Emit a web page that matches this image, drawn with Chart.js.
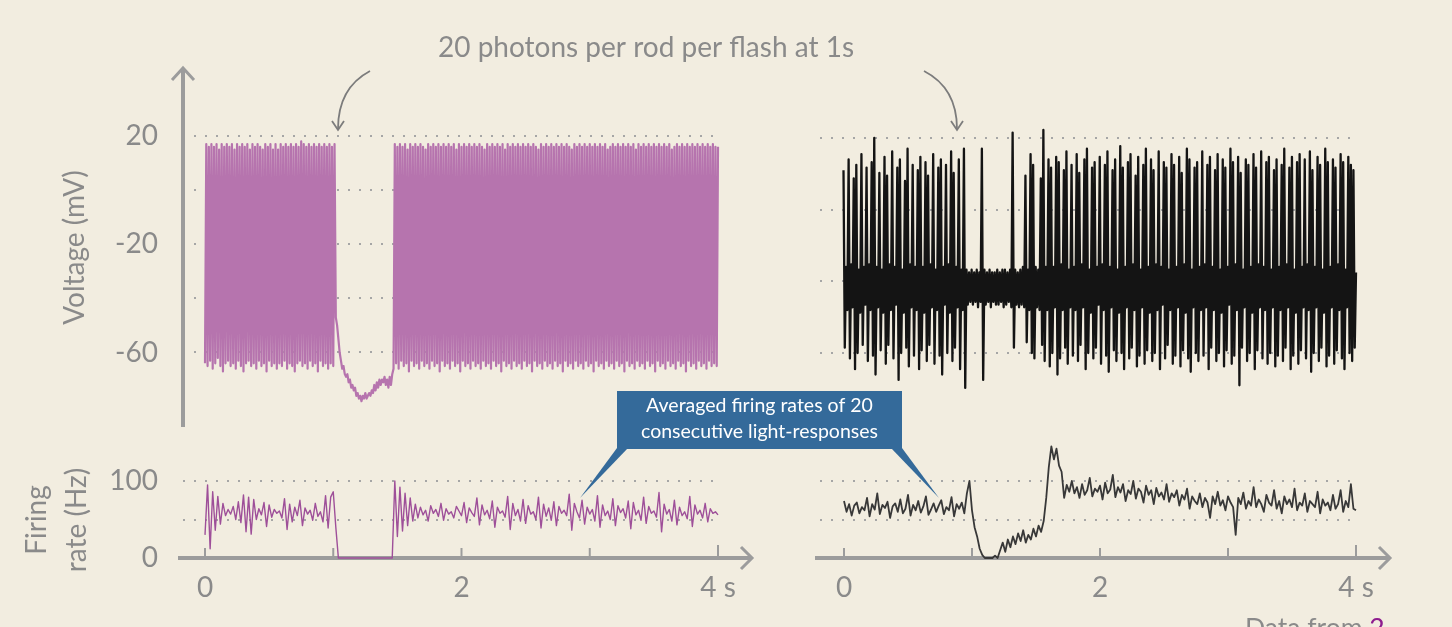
<!DOCTYPE html>
<html>
<head>
<meta charset="utf-8">
<script src="https://cdn.jsdelivr.net/npm/chart.js@4.4.1/dist/chart.umd.min.js"></script>
<style>
  html, body { margin: 0; padding: 0; background: #f2ede0; overflow: hidden; }
  #wrap { position: relative; width: 1452px; height: 627px; }
  #wrap canvas { position: absolute; left: 0; top: 0; }
</style>
</head>
<body>
<div id="wrap">
  <canvas id="voltLeft" width="1452" height="627"></canvas>
  <canvas id="rateLeft" width="1452" height="627"></canvas>
  <canvas id="voltRight" width="1452" height="627"></canvas>
  <canvas id="rateRight" width="1452" height="627"></canvas>
</div>
<script>
// time axis (s)
const timeTicks = [0, 1, 2, 3, 4];
const timeTickLabels = ['0', '', '2', '', '4 s'];
const voltStep = 0.01;   // voltage traces sampled every 10 ms
const rateStep = 0.02;   // firing rates every 20 ms

const voltGridLeft = [20, 0, -20, -40, -60];
const voltLabelsLeft = ['20', '', '-20', '', '-60'];
const voltGridRight = [20, -6.67, -33.33, -60];
const rateGrid = [0, 50, 100];
const rateLabels = ['0', '', '100'];

// mV, ganglion cell (patch), flash at ~1 s
const purpleVoltage = [
  -64, 17, -65, 16, -63, 17, -66, 16, -64, 17, -62, 15, -65, 17, -67, 16, -64, 17, -63, 16,
  -65, 17, -64, 15, -66, 17, -63, 16, -65, 17, -67, 16, -64, 17, -63, 15, -65, 17, -64, 16,
  -66, 17, -63, 16, -65, 15, -64, 17, -67, 16, -63, 17, -65, 15, -64, 17, -66, 15, -64, 17,
  -65, 16, -63, 17, -66, 16, -64, 17, -65, 16, -67, 17, -64, 16, -63, 18, -65, 17, -64, 16,
  -66, 17, -63, 16, -65, 17, -64, 16, -67, 17, -63, 16, -65, 17, -64, 16, -66, 17, -64, 16,
  -65, 17,
  -47, -50, -55, -60, -63, -66, -65, -68, -69, -68,
  -71, -70, -73, -72, -74, -73, -76, -75, -77, -76,
  -78, -76, -77, -75, -77, -76, -75, -76, -74, -75,
  -72, -74, -71, -73, -70, -72, -70, -71, -69, -72,
  -70, -73, -69, -72, -68, -66,
  17, -64, 16, -66, 17, -63, 16, -65, 17, -64, 15, -67, 17, -63, 16, -65, 17, -64, 16, -66,
  17, -63, 16, -65, 15, -64, 17, -66, 16, -63, 17, -65, 16, -64, 17, -67, 16, -63, 17, -65,
  16, -64, 17, -66, 16, -63, 17, -65, 15, -64, 17, -67, 16, -63, 17, -65, 16, -64, 17, -66,
  16, -63, 17, -65, 16, -64, 17, -66, 16, -63, 15, -65, 17, -64, 16, -66, 17, -63, 16, -65,
  17, -64, 16, -67, 17, -63, 15, -65, 17, -64, 16, -66, 17, -63, 16, -65, 17, -64, 16, -66,
  17, -63, 16, -65, 17, -64, 16, -67, 17, -63, 16, -65, 15, -64, 17, -66, 16, -63, 17, -65,
  16, -64, 17, -66, 16, -63, 17, -65, 16, -64, 17, -67, 16, -63, 17, -65, 16, -64, 15, -66,
  17, -63, 16, -65, 17, -64, 16, -66, 17, -63, 16, -65, 17, -64, 16, -67, 17, -63, 16, -65,
  17, -64, 16, -66, 17, -63, 15, -65, 16, -64, 17, -66, 16, -63, 17, -65, 16, -64, 17, -67,
  16, -63, 17, -65, 16, -64, 17, -66, 15, -63, 17, -65, 16, -64, 17, -66, 16, -63, 17, -65,
  16, -64, 17, -67, 16, -63, 17, -65, 16, -64, 17, -66, 16, -63, 17, -65, 15, -64, 16, -66,
  17, -63, 16, -65, 17, -64, 16, -67, 17, -63, 16, -65, 17, -64, 16, -66, 17, -63, 16, -65,
  17, -64, 16, -66, 17, -63, 16, -65, 17, -64, 16, -65, 16
];

// mV, trace on the right
const blackVoltage = [
  8, -58, -28, -44, 12, -62, -27, -43, 5, -66, 10, -60, -29, -45, 14, -57, -28, -42, 9, -63,
  -27, -44, 11, -61, 20, -68, -28, -43, 7, -59, -29, -45, 13, -64, 6, -57, -27, -44, 15, -62,
  -28, -42, 9, -70, 12, -60, -29, -45, 4, -58, 16, -65, -27, -43, 10, -61, -28, -44, 8, -66,
  13, -59, -28, -45, 11, -63, 6, -57, -27, -43, 14, -64, -29, -44, 9, -61, 12, -68, -28, -42,
  10, -60, -27, -45, 15, -63, 7, -58, -28, -43, 12, -66, -29, -44, 16, -73, -29, -42, -30, -41,
  -29, -42, -30, -41, -29, -43, -30, -41, 16, -70, -29, -42, -30, -41, -29, -43, -30, -41, -30, -42,
  -29, -42, -30, -41, -29, -43, -29, -42, -30, -41, -29, -43, 22, -58, -29, -42, -30, -43, -29, -42,
  -28, -43, 6, -56, -29, -44, 14, -60, 10, -62, -28, -43, -29, -44, 5, -57, 23, -63, -28, -44,
  12, -65, 9, -60, -28, -43, 13, -68, 11, -62, -27, -44, 8, -58, 15, -64, -29, -43, 10, -61,
  -28, -44, 14, -63, 7, -57, -27, -43, 12, -66, 16, -60, -29, -45, 9, -62, 11, -58, -28, -42,
  13, -64, -27, -44, 10, -61, 15, -67, -28, -43, 8, -59, 12, -63, -29, -45, 17, -60, 9, -66,
  -28, -43, 11, -62, 14, -58, -27, -44, 6, -65, 13, -61, -29, -43, 10, -64, 16, -59, -28, -45,
  12, -63, 8, -60, -27, -44, 15, -66, -28, -42, 11, -62, 9, -57, -29, -44, 14, -64, 10, -61,
  -28, -43, 13, -65, 7, -59, -27, -45, 16, -62, 12, -67, -29, -43, 9, -60, 11, -63, -28, -44,
  15, -61, -27, -43, 10, -66, 13, -58, -28, -44, 8, -63, 14, -60, -29, -45, 12, -65, 9, -59,
  -28, -42, 16, -64, 11, -61, -27, -44, 13, -72, 7, -58, -29, -43, 12, -63, 10, -60, -28, -45,
  14, -66, 9, -59, -27, -43, 15, -62, -28, -44, 11, -64, 13, -60, -29, -43, 8, -65, 12, -61,
  -28, -44, 10, -63, 16, -58, -27, -43, 9, -66, 13, -61, -29, -45, 11, -64, 14, -59, -28, -43,
  12, -62, -27, -44, 15, -67, 8, -60, -28, -43, 13, -63, 10, -58, -29, -45, 16, -65, 11, -61,
  -28, -43, 12, -64, 9, -59, -27, -44, 14, -62, 11, -66, -29, -43, 13, -60, 10, -63, 8, -58,
  -30
];

// Hz, averaged over 20 light responses
const purpleRate = [
  30, 95, 12, 86, 36, 80, 44, 71, 55, 63, 57, 67, 50, 73, 46, 82, 34, 79, 31, 76,
  50, 64, 56, 72, 41, 69, 53, 63, 58, 61, 52, 77, 37, 70, 47, 66, 55, 75, 42, 65,
  57, 62, 49, 71, 54, 60, 47, 81, 39, 79, 86, 40,
  0, 0, 0, 0, 0, 0, 0, 0, 0, 0, 0, 0, 0, 0, 0, 0, 0, 0, 0, 0, 0, 0,
  100,
  28, 92, 35, 84, 42, 78, 48, 70, 52, 66, 56, 62, 48, 68, 58, 63, 54, 71, 49, 64,
  57, 60, 52, 67, 61, 55, 72, 46, 65, 59, 54, 78, 43, 69, 56, 62, 51, 74, 40, 66,
  58, 61, 53, 80, 37, 71, 55, 63, 48, 76, 45, 68, 57, 60, 50, 79, 39, 70, 54, 65,
  49, 73, 42, 67, 58, 62, 55, 83, 36, 71, 60, 52, 75, 44, 66, 57, 63, 48, 81, 40,
  69, 55, 61, 50, 77, 42, 68, 59, 64, 52, 74, 38, 72, 56, 62, 49, 79, 45, 67, 58,
  61, 53, 85, 34, 70, 57, 63, 48, 75, 43, 66, 55, 60, 51, 80, 41, 69, 57, 62, 52,
  71, 47, 64, 58, 60, 56
];

const blackRate = [
  74, 60, 70, 55, 68, 72, 58, 66, 62, 78, 54, 70, 63, 84, 57, 69, 65, 73, 52, 67,
  71, 60, 76, 58, 64, 82, 55, 69, 62, 74, 59, 67, 80, 56, 63, 71, 60, 68, 75, 57,
  66, 62, 79, 54, 70, 64, 72, 58, 84, 100,
  62, 40, 28, 12, 4, 0, 0, 0, 0, 3, 0, 10, 20, 8, 24, 14, 28, 18, 32, 22,
  36, 20, 30, 24, 38, 28, 42, 34, 48, 78, 118, 145, 128, 142, 120, 112, 78, 95, 86,
  100, 84, 92, 78, 96, 82, 88, 104, 80, 90, 86, 94, 76, 98, 84, 89, 108, 79, 92, 85,
  96, 74, 88, 83, 100, 77, 90, 86, 72, 94, 82, 88, 70, 91, 80, 85, 76, 96, 73, 84,
  79, 88, 68, 82, 76, 90, 64, 80, 74, 70, 84, 66, 78, 72, 52, 80, 70, 86, 68, 75,
  62, 80, 72, 66, 30, 78, 70, 85, 64, 74, 68, 92, 66, 76, 70, 60, 82, 72, 68, 88,
  64, 74, 58, 80, 70, 76, 66, 90, 62, 72, 68, 84, 60, 74, 70, 66, 86, 58, 76, 68,
  72, 62, 82, 64, 70, 88, 60, 74, 66, 96, 64, 62
];

const W = 1452, H = 627;
const GREY = '#8a8a8a', DOT = '#a6a6a6', AXIS = '#9c9c9c';
Chart.defaults.font.family = 'Lato';
Chart.defaults.color = GREY;

// min/max of a scale so that v1 lands on pixel p1 and v2 on p2
function span(v1, p1, v2, p2, pa, pb) {
  const k = (v2 - v1) / (p2 - p1);
  const a = v1 + (pa - p1) * k, b = v1 + (pb - p1) * k;
  return {min: Math.min(a, b), max: Math.max(a, b)};
}

function pts(values, step) {
  return values.map((v, i) => ({x: Math.round(i * step * 1000) / 1000, y: v}));
}

const yAxisArrow = {
  id: 'yAxisArrow',
  afterDraw(chart) {
    const ctx = chart.ctx, x = chart.chartArea.left;
    ctx.save();
    ctx.strokeStyle = AXIS;
    ctx.lineWidth = 4;
    ctx.beginPath(); ctx.moveTo(x, 427); ctx.lineTo(x, 70); ctx.stroke();
    ctx.lineWidth = 3;
    ctx.beginPath(); ctx.moveTo(x - 11, 80); ctx.lineTo(x, 68); ctx.lineTo(x + 11, 80); ctx.stroke();
    ctx.restore();
  }
};

function timeAxis(x0, x1) {
  return {
    id: 'timeAxis',
    beforeDatasetsDraw(chart) {
      const {ctx, scales: {x, y}} = chart;
      const yy = y.getPixelForValue(0);
      ctx.save();
      ctx.strokeStyle = AXIS;
      ctx.lineWidth = 4;
      ctx.beginPath(); ctx.moveTo(x0, yy); ctx.lineTo(x1 - 2, yy); ctx.stroke();
      ctx.lineWidth = 3;
      ctx.beginPath(); ctx.moveTo(x1 - 11, yy - 11); ctx.lineTo(x1, yy); ctx.lineTo(x1 - 11, yy + 11); ctx.stroke();
      ctx.lineWidth = 2;
      timeTicks.forEach(t => {
        const px = x.getPixelForValue(t);
        ctx.beginPath(); ctx.moveTo(px, yy - (t === 4 ? 13 : 10)); ctx.lineTo(px, yy); ctx.stroke();
      });
      ctx.restore();
    }
  };
}

const notes = {
  id: 'notes',
  afterDraw(chart) {
    const ctx = chart.ctx;
    ctx.save();
    ctx.fillStyle = GREY;
    ctx.font = '28px Lato';
    ctx.textAlign = 'center';
    ctx.fillText('20 photons per rod per flash at 1s', 646, 57);

    ctx.strokeStyle = '#7c7c7c';
    ctx.lineWidth = 1.8;
    ctx.beginPath(); ctx.moveTo(370, 71); ctx.quadraticCurveTo(338, 88, 338, 129); ctx.stroke();
    ctx.beginPath(); ctx.moveTo(332, 121); ctx.lineTo(338, 130); ctx.lineTo(344, 121); ctx.stroke();
    ctx.beginPath(); ctx.moveTo(924, 71); ctx.quadraticCurveTo(957, 88, 957, 129); ctx.stroke();
    ctx.beginPath(); ctx.moveTo(951, 121); ctx.lineTo(957, 130); ctx.lineTo(963, 121); ctx.stroke();

    ctx.fillStyle = '#346a9a';
    ctx.fillRect(617, 391, 285, 58);
    ctx.beginPath(); ctx.moveTo(617, 448); ctx.lineTo(628, 448); ctx.lineTo(580, 498); ctx.closePath(); ctx.fill();
    ctx.beginPath(); ctx.moveTo(891, 448); ctx.lineTo(902, 448); ctx.lineTo(939, 498); ctx.closePath(); ctx.fill();
    ctx.fillStyle = '#ffffff';
    ctx.font = '19.5px Lato';
    ctx.fillText('Averaged firing rates of 20', 759.5, 412);
    ctx.fillText('consecutive light-responses', 759.5, 438);

    ctx.textAlign = 'left';
    ctx.font = '26.5px Lato';
    ctx.fillStyle = GREY;
    const lead = 'Data from ';
    ctx.fillText(lead, 1245, 637);
    ctx.fillStyle = '#8e1c8e';
    ctx.fillText('2', 1245 + ctx.measureText(lead).width, 637);
    ctx.restore();
  }
};

function panel(id, o) {
  const yRange = span(o.v1, o.p1, o.v2, o.p2, o.bottom, o.top);
  const xRange = span(0, o.t0, 4, o.t4, o.left, o.right);
  return new Chart(document.getElementById(id), {
    type: 'line',
    data: {
      datasets: [{
        data: pts(o.values, o.step),
        borderColor: o.color,
        borderWidth: o.width,
        borderJoinStyle: 'round',
        pointRadius: 0,
        tension: 0,
        clip: false
      }]
    },
    options: {
      responsive: false,
      animation: false,
      events: [],
      devicePixelRatio: 1,
      layout: {padding: {left: 0, top: o.top, right: W - o.right, bottom: o.xLabels ? 0 : H - o.bottom}},
      plugins: {legend: {display: false}, tooltip: {enabled: false}},
      scales: {
        x: {
          type: 'linear',
          min: xRange.min,
          max: xRange.max,
          display: !!o.xLabels,
          position: 'bottom',
          afterFit: s => { if (o.xLabels) s.height = H - o.bottom; },
          afterBuildTicks: s => { s.ticks = timeTicks.map(v => ({value: v})); },
          ticks: {
            autoSkip: false, maxRotation: 0, padding: 1, color: GREY, font: {size: 28},
            callback: v => timeTickLabels[timeTicks.indexOf(v)] ?? ''
          },
          grid: {display: false},
          border: {display: false}
        },
        y: {
          type: 'linear',
          min: yRange.min,
          max: yRange.max,
          position: 'left',
          afterFit: s => { s.width = o.left; },
          afterBuildTicks: s => { s.ticks = o.grid.map(v => ({value: v})); },
          ticks: {
            display: !!o.labels, padding: 25, color: GREY, font: {size: 28},
            callback: v => o.labels ? (o.labels[o.grid.indexOf(v)] ?? '') : ''
          },
          grid: {
            drawTicks: false,
            lineWidth: 2,
            color: c => (c.tick && c.tick.value === o.hideGridAt) ? 'rgba(0,0,0,0)' : DOT
          },
          border: {display: false, dash: [2, 9]},
          title: o.title ? {
            display: true, text: o.title, color: GREY,
            font: {size: 28, lineHeight: o.titleLine},
            padding: {top: o.titlePad, bottom: 0}
          } : {display: false}
        }
      }
    },
    plugins: o.plugins || []
  });
}

panel('voltLeft', {
  values: purpleVoltage, step: voltStep, color: '#b674ae', width: 2.2,
  left: 183, right: 720, top: 68, bottom: 427,
  t0: 205, t4: 718, v1: 20, p1: 136, v2: -60, p2: 352.5,
  grid: voltGridLeft, labels: voltLabelsLeft,
  title: 'Voltage (mV)', titleLine: 1.2, titlePad: 58,
  plugins: [yAxisArrow]
});

panel('rateLeft', {
  values: purpleRate, step: rateStep, color: '#9e4f99', width: 1.4,
  left: 183, right: 720, top: 478, bottom: 562, xLabels: true,
  t0: 205, t4: 718, v1: 0, p1: 558, v2: 100, p2: 481,
  grid: rateGrid, labels: rateLabels, hideGridAt: 0,
  title: ['Firing', 'rate (Hz)'], titleLine: 1.43, titlePad: 17,
  plugins: [timeAxis(178, 752)]
});

panel('voltRight', {
  values: blackVoltage, step: voltStep, color: '#141414', width: 2.3,
  left: 820, right: 1355, top: 68, bottom: 427,
  t0: 843.5, t4: 1356, v1: 20, p1: 138, v2: -60, p2: 353,
  grid: voltGridRight
});

panel('rateRight', {
  values: blackRate, step: rateStep, color: '#383838', width: 1.8,
  left: 820, right: 1355, top: 478, bottom: 562, xLabels: true,
  t0: 844, t4: 1356, v1: 0, p1: 558, v2: 100, p2: 481,
  grid: rateGrid, hideGridAt: 0,
  plugins: [timeAxis(815, 1390), notes]
});
</script>
</body>
</html>
